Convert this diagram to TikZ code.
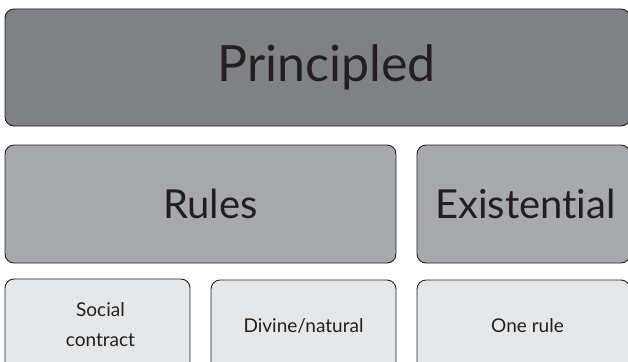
\documentclass[tikz,border=0pt]{standalone}
\usepackage{fontspec}
\setmainfont{Lato}[Ligatures={NoCommon}]
\definecolor{inkc}{HTML}{231F20}
\definecolor{topc}{HTML}{808184}
\definecolor{midc}{HTML}{A7A9AC}
\definecolor{lowc}{HTML}{E6E7E8}
\begin{document}
\begin{tikzpicture}[x=1pt,y=-1pt,
  box/.style={draw=inkc, line width=0.9pt, rounded corners=9pt, text=inkc,
    inner sep=0pt, align=center},
  topbox/.style={box, fill=topc, font=\fontsize{50}{58}\selectfont},
  midbox/.style={box, fill=midc, font=\fontsize{40}{46}\selectfont},
  lowbox/.style={box, fill=lowc, font=\fontsize{19}{30}\selectfont}]
\useasboundingbox (0,0) rectangle (628,361);
\clip (0,0) rectangle (628,361);
\node[topbox, minimum width=625pt, minimum height=117pt] (principled) at (317.5,67.5) {\hspace*{18pt}Principled};
\node[midbox, minimum width=391pt, minimum height=118pt] (rules) at (200.5,204) {\hspace*{20pt}Rules};
\node[midbox, minimum width=213pt, minimum height=118pt] (existential) at (523.5,204) {\hspace*{4pt}Existential};
\node[lowbox, minimum width=185pt, minimum height=92pt] (social) at (97.5,325) {\hspace*{6pt}Social\\\hspace*{6pt}contract};
\node[lowbox, minimum width=185pt, minimum height=92pt] (divine) at (303.5,326) {Divine/natural};
\node[lowbox, minimum width=213pt, minimum height=92pt] (onerule) at (523.5,326) {\hspace*{8pt}One rule};
\end{tikzpicture}
\end{document}
